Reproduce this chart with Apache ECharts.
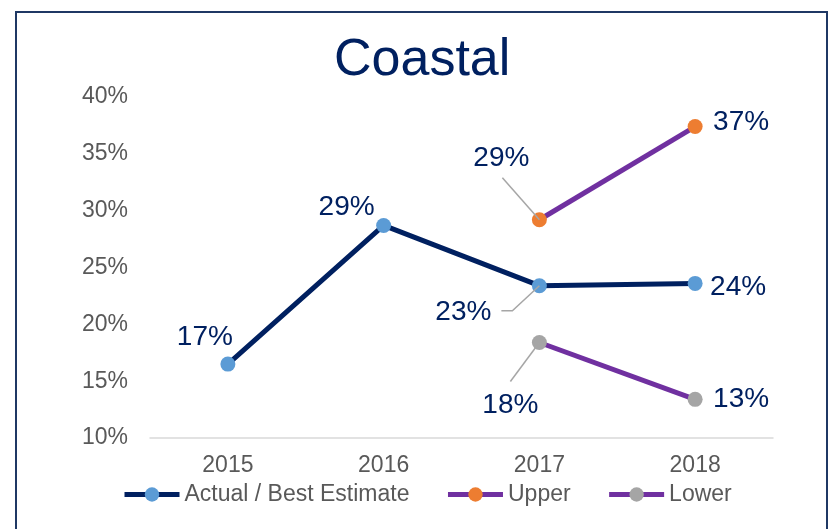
<!DOCTYPE html>
<html>
<head>
<meta charset="utf-8">
<script src="https://cdn.jsdelivr.net/npm/echarts@6/dist/echarts.min.js"></script>
<style>
html,body{margin:0;padding:0;background:#fff;}
#chart{width:829px;height:529px;}
</style>
</head>
<body>
<div id="chart"></div>
<script>
// ---- data ----
var categories = ['2015', '2016', '2017', '2018'];
var actual = [16.5, 28.7, 23.4, 23.6];
var upper = [null, null, 29.2, 37.4];
var lower = [null, null, 18.4, 13.4];
var yTicks = [10, 15, 20, 25, 30, 35, 40];
var seriesNames = ['Actual / Best Estimate', 'Upper', 'Lower'];

// ---- label placement (styles, not data) ----
var actualOffsets = [[-23, -27], [-37, -18], [-76, 27], [43, 4]];
var upperOffsets = [null, null, [-38, -61], [46, -4]];
var lowerOffsets = [null, null, [-29, 63], [46, 0]];
// leader-line shapes relative to the data point (pixel offsets), index 2017
var leaders = [
  { series: 0, idx: 2, pts: [[-38, 25], [-27, 25], [0, 0]] },
  { series: 1, idx: 2, pts: [[-37, -42], [0, 0]] },
  { series: 2, idx: 2, pts: [[-29, 39], [0, 0]] }
];

var NAVY = '#002060';
var PURPLE = '#7030A0';
var FONT = '"Liberation Sans", Arial, sans-serif';

function buildData(vals, offs) {
  return vals.map(function (v, i) {
    if (v == null) return null;
    return { value: v, label: { offset: offs[i] } };
  });
}

var labelBase = {
  show: true,
  position: 'inside',
  color: NAVY,
  fontSize: 28,
  fontFamily: FONT,
  formatter: function (p) { return Math.round(p.value) + '%'; }
};

var chart = echarts.init(document.getElementById('chart'));
chart.setOption({
  backgroundColor: '#fff',
  animation: false,
  title: {
    text: 'Coastal',
    left: 329,
    top: 30,
    textStyle: { color: NAVY, fontSize: 52, fontWeight: 'normal', fontFamily: FONT }
  },
  legend: {
    left: 122,
    top: 483,
    padding: 0,
    itemWidth: 55,
    itemHeight: 18,
    itemGap: 36,
    lineStyle: { width: 5 },
    textStyle: { color: '#595959', fontSize: 23, fontFamily: FONT },
    data: seriesNames
  },
  grid: { left: 150, right: 56, top: 97, bottom: 91 },
  xAxis: {
    type: 'category',
    data: categories,
    boundaryGap: true,
    axisLine: { show: true, lineStyle: { color: '#D9D9D9', width: 1.5 } },
    axisTick: { show: false },
    axisLabel: { color: '#595959', fontSize: 23, fontFamily: FONT, margin: 16 }
  },
  yAxis: {
    type: 'value',
    min: yTicks[0],
    max: yTicks[yTicks.length - 1],
    interval: yTicks[1] - yTicks[0],
    axisLine: { show: false },
    axisTick: { show: false },
    splitLine: { show: false },
    axisLabel: { color: '#595959', fontSize: 23, fontFamily: FONT, margin: 22, formatter: '{value}%' }
  },
  series: [
    {
      name: seriesNames[0],
      type: 'line',
      data: buildData(actual, actualOffsets),
      symbol: 'circle',
      symbolSize: 15,
      lineStyle: { color: NAVY, width: 5 },
      itemStyle: { color: '#5B9BD5' },
      label: labelBase,
      z: 3
    },
    {
      name: seriesNames[1],
      type: 'line',
      data: buildData(upper, upperOffsets),
      symbol: 'circle',
      symbolSize: 15,
      lineStyle: { color: PURPLE, width: 5 },
      itemStyle: { color: '#ED7D31' },
      label: labelBase,
      z: 3
    },
    {
      name: seriesNames[2],
      type: 'line',
      data: buildData(lower, lowerOffsets),
      symbol: 'circle',
      symbolSize: 15,
      lineStyle: { color: PURPLE, width: 5 },
      itemStyle: { color: '#A5A5A5' },
      label: labelBase,
      z: 3
    }
  ]
});

var seriesData = [actual, upper, lower];
var graphics = [{
  type: 'rect',
  shape: { x: 16, y: 12, width: 811, height: 540 },
  style: { fill: 'none', stroke: '#1F3864', lineWidth: 2 },
  z: 100
}];
leaders.forEach(function (l) {
  var p = chart.convertToPixel({ seriesIndex: l.series }, [l.idx, seriesData[l.series][l.idx]]);
  graphics.push({
    type: 'polyline',
    shape: { points: l.pts.map(function (o) { return [p[0] + o[0], p[1] + o[1]]; }) },
    style: { fill: 'none', stroke: '#A6A6A6', lineWidth: 1.5 },
    z: 10
  });
});
chart.setOption({ graphic: graphics });
</script>
</body>
</html>
